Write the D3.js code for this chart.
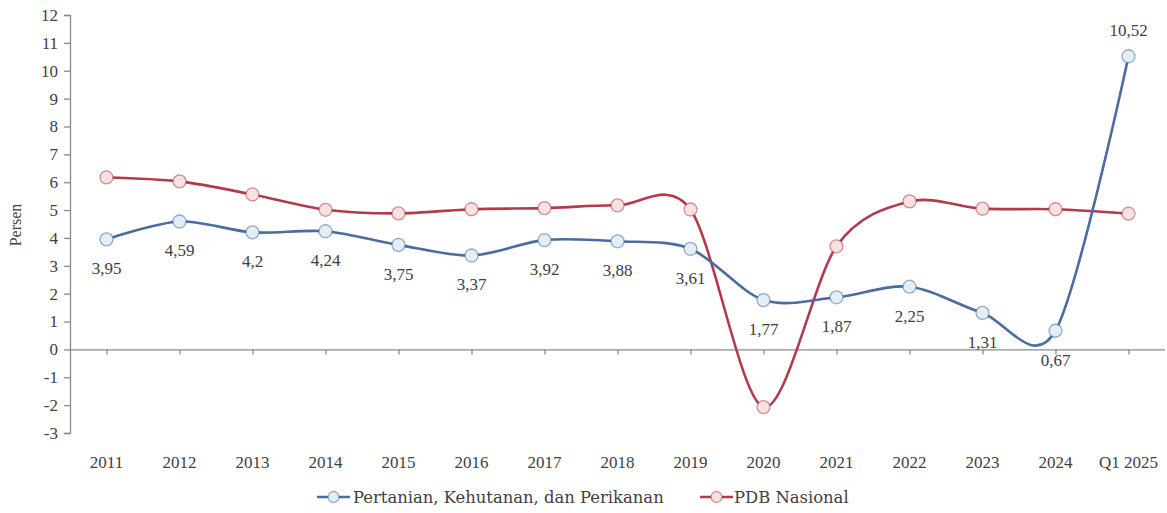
<!DOCTYPE html>
<html><head><meta charset="utf-8">
<script src="https://cdn.jsdelivr.net/npm/d3@7"></script>
<style>body{margin:0;background:#fff;} svg{display:block;}</style>
</head><body>
<script>
const categories = ["2011","2012","2013","2014","2015","2016","2017","2018","2019","2020","2021","2022","2023","2024","Q1 2025"];
const pertanian = [3.95,4.59,4.2,4.24,3.75,3.37,3.92,3.88,3.61,1.77,1.87,2.25,1.31,0.67,10.52];
const pdb = [6.17,6.03,5.56,5.01,4.88,5.03,5.07,5.17,5.02,-2.07,3.70,5.31,5.05,5.03,4.87];
const yTicks = [-3,-2,-1,0,1,2,3,4,5,6,7,8,9,10,11,12];
const seriesNames = ["Pertanian, Kehutanan, dan Perikanan","PDB Nasional"];

const W=1167,H=513;
const font="Liberation Serif";
const legFont="DejaVu Serif";
const svg=d3.select("body").append("svg").attr("width",W).attr("height",H);
const x=d3.scalePoint().domain(categories).range([106.5,1128.5]);
const y=d3.scaleLinear().domain([-3,12]).range([433,15]);
const axisCol="#8a8a8a", textCol="#404040";

// y axis
const ya=svg.append("g").attr("transform","translate(70,0)")
  .call(d3.axisLeft(y).tickValues(yTicks).tickSize(6).tickPadding(6).tickFormat(d=>d));
ya.select(".domain").attr("stroke",axisCol).attr("stroke-width",1.3);
ya.selectAll(".tick line").attr("stroke",axisCol).attr("stroke-width",1.3);
ya.selectAll("text").attr("font-family",font).attr("font-size",17).attr("fill",textCol);

// x axis at zero
const xa=svg.append("g").attr("transform",`translate(0,${y(0)})`)
  .call(d3.axisBottom(x).tickSize(5).tickFormat(""));
xa.select(".domain").attr("stroke",axisCol).attr("stroke-width",1.3).attr("d",`M70,0.5H1165`);
xa.selectAll(".tick line").attr("stroke",axisCol).attr("stroke-width",1.3);
svg.append("g").selectAll("text").data(categories).join("text")
  .attr("x",d=>x(d)).attr("y",468).attr("text-anchor","middle")
  .attr("font-family",font).attr("font-size",17).attr("fill",textCol).text(d=>d);

// y title
svg.append("text").attr("transform","translate(21,225) rotate(-90)").attr("text-anchor","middle")
  .attr("font-family",font).attr("font-size",16).attr("fill",textCol).text("Persen");

const curve=d3.curveCardinal.tension(0.08);
const line=d3.line().x((d,i)=>x(categories[i])).y(d=>y(d)).curve(curve);
const series=[
  {vals:pertanian,stroke:"#4a6c9e",fill:"#e2eef8"},
  {vals:pdb,stroke:"#b23a4c",fill:"#f8e2e0"}
];
series.slice().reverse().forEach(s=>{
  svg.append("path").attr("d",line(s.vals)).attr("fill","none").attr("stroke",s.stroke).attr("stroke-width",2.6);
});
series.forEach(s=>{
  svg.append("g").selectAll("circle").data(s.vals).join("circle")
   .attr("cx",(d,i)=>x(categories[i])).attr("cy",d=>y(d)).attr("r",6.5)
   .attr("fill",s.fill).attr("stroke",s.stroke).attr("stroke-opacity",0.55).attr("stroke-width",1.3);
});
// labels for pertanian
svg.append("g").selectAll("text").data(pertanian).join("text")
  .attr("x",(d,i)=>x(categories[i])).attr("y",(d,i)=> i===pertanian.length-1 ? y(d)-20 : y(d)+35)
  .attr("text-anchor","middle").attr("font-family",font).attr("font-size",17).attr("fill",textCol)
  .text(d=>String(d).replace(".",","));

// legend
const leg=[{x:317,tx:353,s:series[0],name:seriesNames[0]},{x:700,tx:734,s:series[1],name:seriesNames[1]}];
leg.forEach(l=>{
  const ly=497;
  svg.append("line").attr("x1",l.x).attr("x2",l.x+33).attr("y1",ly).attr("y2",ly).attr("stroke",l.s.stroke).attr("stroke-width",2.6);
  svg.append("circle").attr("cx",l.x+16.5).attr("cy",ly).attr("r",5.5).attr("fill",l.s.fill).attr("stroke",l.s.stroke).attr("stroke-opacity",0.55).attr("stroke-width",1.3);
  svg.append("text").attr("x",l.tx).attr("y",ly+6).attr("font-family",legFont).attr("font-size",16.4).attr("fill",textCol).text(l.name);
});
</script>
</body></html>
